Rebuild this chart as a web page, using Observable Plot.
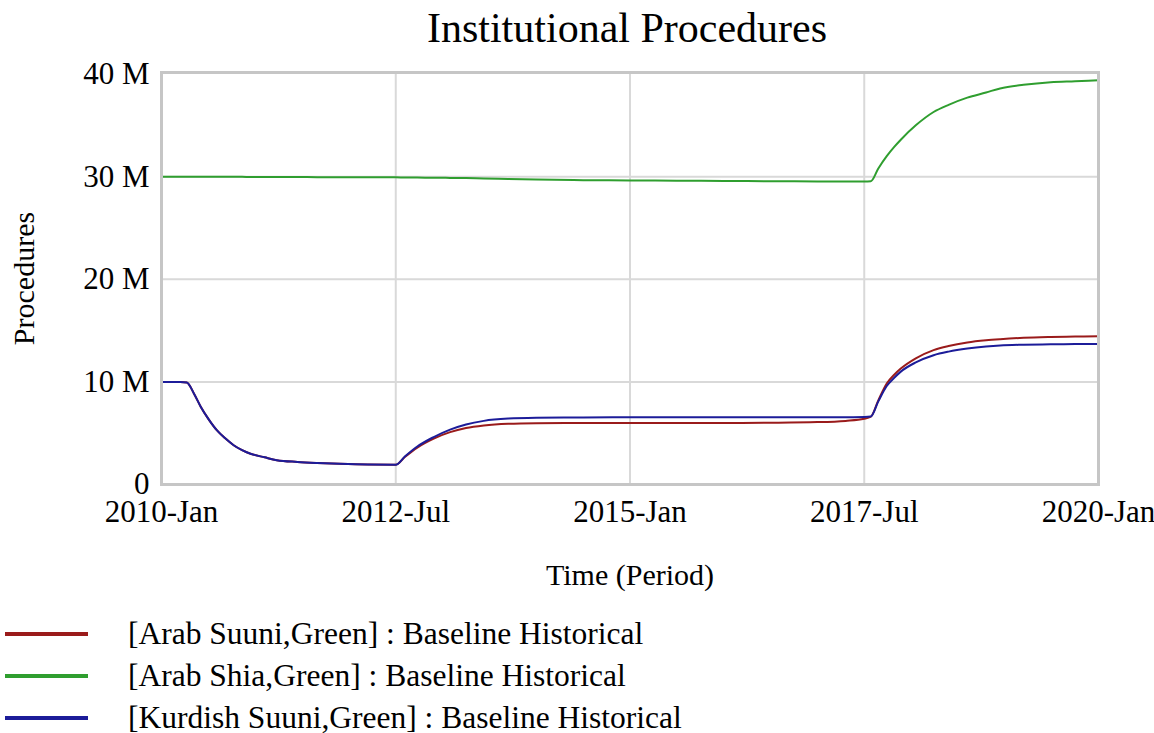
<!DOCTYPE html>
<html><head><meta charset="utf-8">
<script src="https://cdn.jsdelivr.net/npm/d3@7"></script>
<script src="https://cdn.jsdelivr.net/npm/@observablehq/plot@0.6"></script>
<style>
body{margin:0;background:#fff;font-family:"Liberation Serif","Times New Roman",serif;color:#000;}
#wrap{position:relative;width:1154px;height:733px;overflow:hidden;background:#fff;}
#title{position:absolute;left:627px;top:-1px;transform:translateX(-50%);font-size:42px;line-height:58px;white-space:nowrap;}
#chart{position:absolute;left:0;top:56px;}
.lg-line{position:absolute;left:5px;width:83px;height:4px;}
.lg-text{position:absolute;left:128px;font-size:31.5px;line-height:31.5px;white-space:nowrap;}
</style></head>
<body><div id="wrap"><div id="title">Institutional Procedures</div><div id="chart"></div><div id="legend"></div></div>
<script>
// Time in decimal years
const time = [2010, 2010.2, 2010.27, 2010.35, 2010.42, 2010.5, 2010.59, 2010.68, 2010.77, 2010.86,
  2010.95, 2011.1, 2011.23, 2011.45, 2011.66, 2011.9, 2012.2, 2012.5, 2012.6, 2012.73,
  2012.9, 2013.08, 2013.25, 2013.44, 2013.7, 2014, 2014.5, 2015, 2015.5, 2016,
  2016.5, 2017, 2017.3, 2017.5, 2017.57, 2017.65, 2017.74, 2017.82, 2017.89, 2018.05,
  2018.24, 2018.4, 2018.6, 2018.8, 2018.95, 2019.2, 2019.49, 2019.75, 2020];

// Values in millions of procedures
const arabSuuni = [10, 10, 9.95, 8.8, 7.56, 6.4, 5.3, 4.5, 3.83, 3.35,
  3.0, 2.65, 2.37, 2.2, 2.1, 2.02, 1.95, 1.93, 2.7, 3.6,
  4.45, 5.1, 5.5, 5.75, 5.92, 5.98, 6.0, 6.0, 6.0, 6.0,
  6.02, 6.08, 6.2, 6.4, 6.6, 8.2, 9.84, 10.7, 11.3, 12.3,
  13.1, 13.5, 13.84, 14.05, 14.16, 14.3, 14.38, 14.42, 14.45];

const arabShia = [30.0, 30.0, 30.0, 30.0, 29.99, 29.99, 29.99, 29.98, 29.98, 29.98,
  29.97, 29.97, 29.96, 29.96, 29.95, 29.95, 29.94, 29.93, 29.92, 29.91,
  29.9, 29.88, 29.86, 29.82, 29.77, 29.72, 29.66, 29.63, 29.6, 29.58,
  29.56, 29.54, 29.53, 29.53, 29.56, 30.8, 32.0, 32.9, 33.6, 35.0,
  36.3, 37.0, 37.7, 38.2, 38.6, 38.95, 39.2, 39.3, 39.4];

const kurdishSuuni = [10, 10, 9.95, 8.8, 7.56, 6.4, 5.3, 4.5, 3.83, 3.35,
  3.0, 2.65, 2.37, 2.2, 2.1, 2.02, 1.95, 1.93, 2.75, 3.7,
  4.6, 5.35, 5.85, 6.2, 6.42, 6.5, 6.53, 6.55, 6.55, 6.55,
  6.55, 6.55, 6.56, 6.58, 6.62, 8.1, 9.6, 10.4, 11.0, 11.9,
  12.6, 12.95, 13.25, 13.45, 13.55, 13.62, 13.66, 13.68, 13.7];

const seriesNames = ["[Arab Suuni,Green] : Baseline Historical",
  "[Arab Shia,Green] : Baseline Historical",
  "[Kurdish Suuni,Green] : Baseline Historical"];
const seriesColors = ["#9a1b1b", "#2f9e2f", "#1c1c99"];

const xTicks = [2010, 2012.5, 2015, 2017.5, 2020];
const xTickLabels = ["2010-Jan", "2012-Jul", "2015-Jan", "2017-Jul", "2020-Jan"];
const yTicks = [0, 10, 20, 30, 40];
const yTickLabels = ["0", "10 M", "20 M", "30 M", "40 M"];

const rows = [];
[arabSuuni, arabShia, kurdishSuuni].forEach((vals, k) =>
  vals.forEach((v, i) => rows.push({series: seriesNames[k], t: time[i], v})));

const plot = Plot.plot({
  width: 1154, height: 544,
  marginLeft: 161, marginRight: 56, marginTop: 16, marginBottom: 116,
  style: {fontFamily: "'Liberation Serif', 'Times New Roman', serif", fontSize: "31px", color: "#000", background: "transparent", overflow: "hidden"},
  x: {type: "linear", domain: [2010, 2020]},
  y: {domain: [0, 40.15]},
  color: {domain: seriesNames, range: seriesColors},
  marks: [
    Plot.gridX(xTicks.slice(1, -1), {stroke: "#d9d9d9", strokeWidth: 2, strokeOpacity: 1}),
    Plot.gridY(yTicks.slice(1, -1), {stroke: "#d9d9d9", strokeWidth: 2, strokeOpacity: 1}),
    Plot.line(rows, {x: "t", y: "v", stroke: "series", z: "series", strokeWidth: 2, curve: "monotone-x"}),
    Plot.frame({stroke: "#c6c6c6", strokeWidth: 3}),
    Plot.axisX({ticks: xTicks, tickFormat: d => xTickLabels[xTicks.indexOf(d)], tickSize: 0, tickPadding: 15, label: null}),
    Plot.axisY({ticks: yTicks, tickFormat: d => yTickLabels[yTicks.indexOf(d)], tickSize: 0, tickPadding: 12, label: null}),
    Plot.text(["Procedures"], {frameAnchor: "left", textAnchor: "middle", lineAnchor: "middle", rotate: -90, dx: -137, fontSize: 30}),
    Plot.text(["Time (Period)"], {frameAnchor: "bottom", textAnchor: "middle", lineAnchor: "middle", dy: 91, fontSize: 30})
  ]
});
document.getElementById("chart").appendChild(plot);

// Legend
const legend = document.getElementById("legend");
const lineYs = [633.5, 676, 717.5];
const baselines = [644, 686.5, 728];
seriesNames.forEach((name, i) => {
  const ln = document.createElement("div");
  ln.className = "lg-line";
  ln.style.top = (lineYs[i] - 2) + "px";
  ln.style.background = seriesColors[i];
  legend.appendChild(ln);
  const tx = document.createElement("div");
  tx.className = "lg-text";
  tx.style.top = (baselines[i] - 26.4) + "px";
  tx.textContent = name;
  legend.appendChild(tx);
});
</script>
</body></html>
